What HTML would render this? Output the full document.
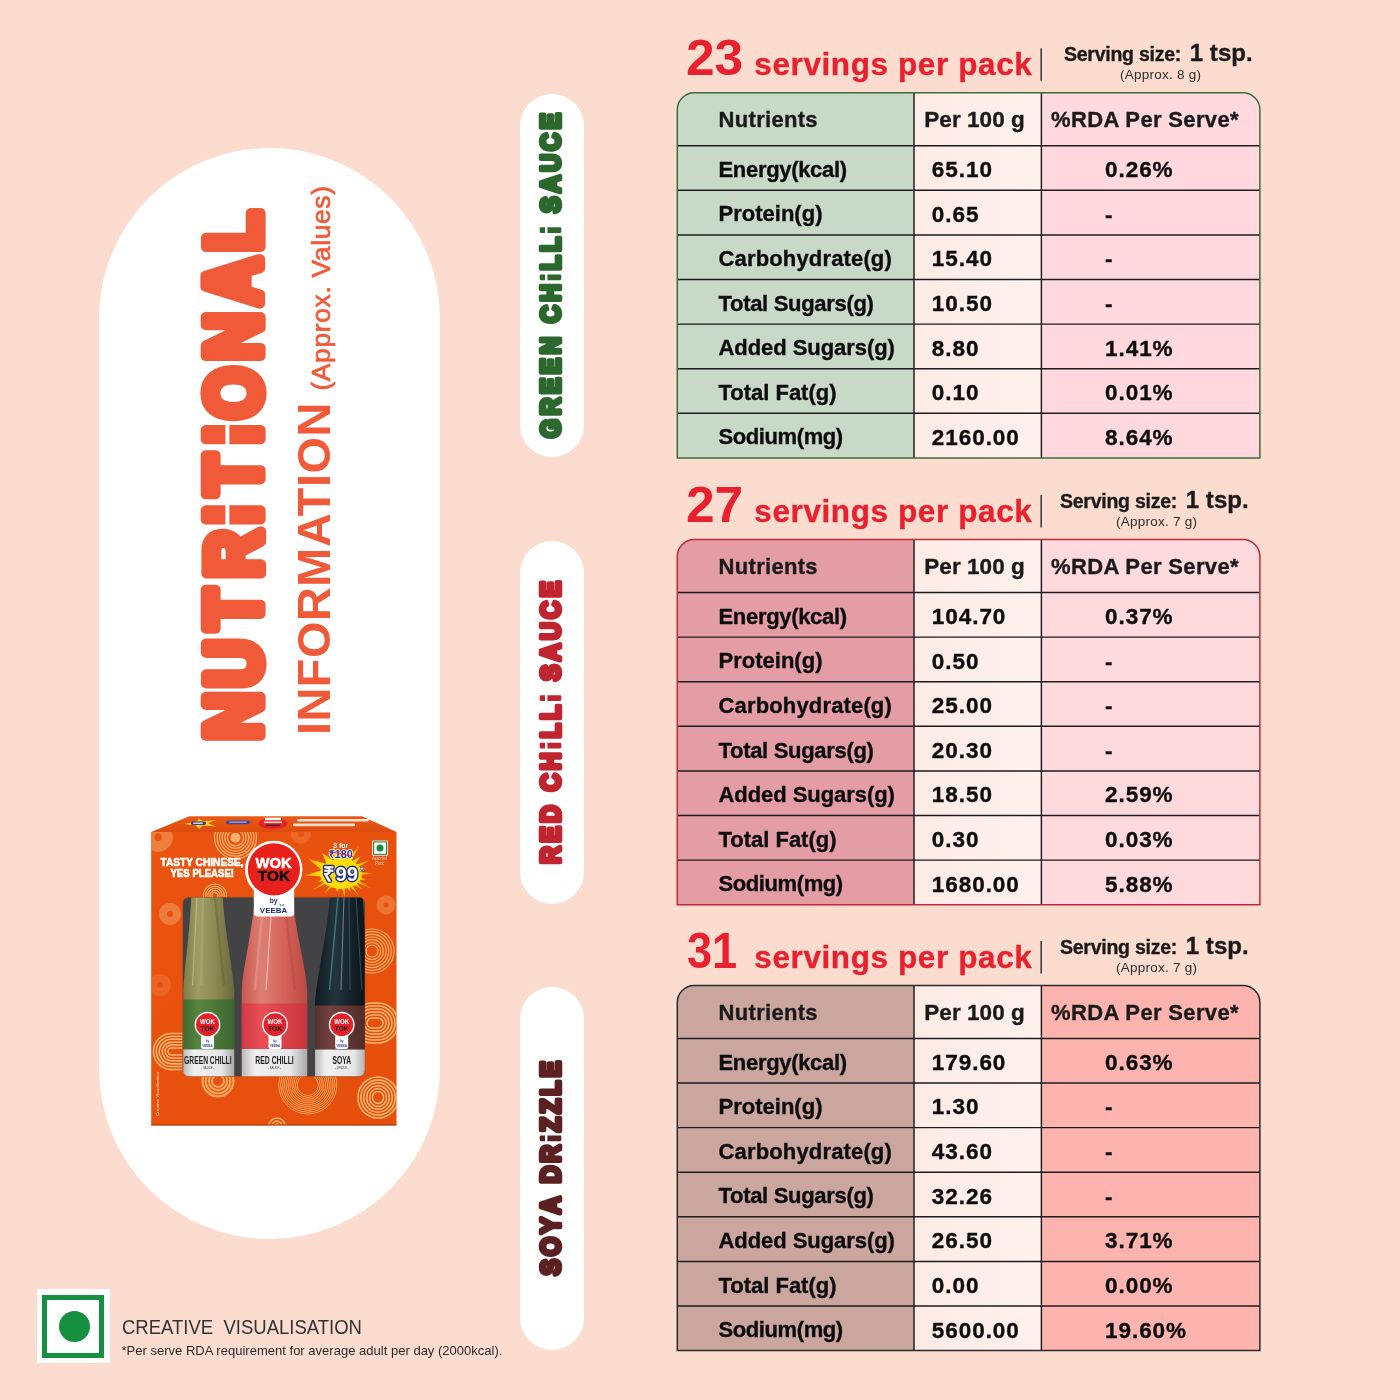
<!DOCTYPE html>
<html lang="en">
<head>
<meta charset="utf-8">
<title>Nutritional Information (Approx. Values)</title>
<style>
html,body{margin:0;padding:0;}
body{width:1400px;height:1400px;position:relative;overflow:hidden;background:#fddcd0;font-family:"Liberation Sans",Arial,Helvetica,sans-serif;}
.t{position:absolute;white-space:pre;line-height:1;margin:0;font-weight:bold;}
.h{-webkit-text-stroke:0.35px currentColor;}
.pill{position:absolute;background:#fff;}
svg{position:absolute;left:0;top:0;overflow:visible;}
svg text{font-family:"Liberation Sans",Arial,Helvetica,sans-serif;}
</style>
</head>
<body>

<div class="pill" style="left:99px;top:148px;width:340.5px;height:1091px;border-radius:170.25px;"></div>
<div class="pill" style="left:519.5px;top:94px;width:64.2px;height:363px;border-radius:32.1px;"></div>
<div class="pill" style="left:519.5px;top:541px;width:64.2px;height:363px;border-radius:32.1px;"></div>
<div class="pill" style="left:519.5px;top:986.5px;width:64.2px;height:363px;border-radius:32.1px;"></div>
<svg width="1400" height="1400" viewBox="0 0 1400 1400">
<defs><linearGradient id="gc2" x1="0" y1="0" x2="1" y2="0"><stop offset="0" stop-color="#fdebe5"/><stop offset="1" stop-color="#fff1ed"/></linearGradient></defs>
<clipPath id="cp0"><path d="M677.3,457.90 L677.3,109.80 A17,17 0 0 1 694.3,92.80 L1242.9,92.80 A17,17 0 0 1 1259.9,109.80 L1259.9,457.90 Z"/></clipPath>
<g clip-path="url(#cp0)">
<rect x="677.3" y="92.80" width="236.70" height="365.10" fill="#c8d9c7"/>
<rect x="914.0" y="92.80" width="127.40" height="365.10" fill="url(#gc2)"/>
<rect x="1041.4" y="92.80" width="218.50" height="365.10" fill="#ffd9dd"/>
</g>
<path d="M677.3,145.70 H1259.9 M677.3,190.30 H1259.9 M677.3,234.90 H1259.9 M677.3,279.50 H1259.9 M677.3,324.10 H1259.9 M677.3,368.70 H1259.9 M677.3,413.30 H1259.9 M914.0,92.80 V457.90 M1041.4,92.80 V457.90" stroke="#1c1c1c" stroke-width="1.45" fill="none"/>
<path d="M677.3,457.90 L677.3,109.80 A17,17 0 0 1 694.3,92.80 L1242.9,92.80 A17,17 0 0 1 1259.9,109.80 L1259.9,457.90 Z" stroke="#3b6d38" stroke-width="1.5" fill="none"/>
<path d="M1041.2,48.30 V80.80" stroke="#333" stroke-width="1.5"/>
<clipPath id="cp1"><path d="M677.3,904.70 L677.3,556.60 A17,17 0 0 1 694.3,539.60 L1242.9,539.60 A17,17 0 0 1 1259.9,556.60 L1259.9,904.70 Z"/></clipPath>
<g clip-path="url(#cp1)">
<rect x="677.3" y="539.60" width="236.70" height="365.10" fill="#e59da5"/>
<rect x="914.0" y="539.60" width="127.40" height="365.10" fill="url(#gc2)"/>
<rect x="1041.4" y="539.60" width="218.50" height="365.10" fill="#ffdadd"/>
</g>
<path d="M677.3,592.50 H1259.9 M677.3,637.10 H1259.9 M677.3,681.70 H1259.9 M677.3,726.30 H1259.9 M677.3,770.90 H1259.9 M677.3,815.50 H1259.9 M677.3,860.10 H1259.9 M914.0,539.60 V904.70 M1041.4,539.60 V904.70" stroke="#1c1c1c" stroke-width="1.45" fill="none"/>
<path d="M677.3,904.70 L677.3,556.60 A17,17 0 0 1 694.3,539.60 L1242.9,539.60 A17,17 0 0 1 1259.9,556.60 L1259.9,904.70 Z" stroke="#c2283a" stroke-width="1.5" fill="none"/>
<path d="M1041.2,495.10 V527.60" stroke="#333" stroke-width="1.5"/>
<clipPath id="cp2"><path d="M677.3,1350.60 L677.3,1002.50 A17,17 0 0 1 694.3,985.50 L1242.9,985.50 A17,17 0 0 1 1259.9,1002.50 L1259.9,1350.60 Z"/></clipPath>
<g clip-path="url(#cp2)">
<rect x="677.3" y="985.50" width="236.70" height="365.10" fill="#cba69f"/>
<rect x="914.0" y="985.50" width="127.40" height="365.10" fill="url(#gc2)"/>
<rect x="1041.4" y="985.50" width="218.50" height="365.10" fill="#feb4ae"/>
</g>
<path d="M677.3,1038.40 H1259.9 M677.3,1083.00 H1259.9 M677.3,1127.60 H1259.9 M677.3,1172.20 H1259.9 M677.3,1216.80 H1259.9 M677.3,1261.40 H1259.9 M677.3,1306.00 H1259.9 M914.0,985.50 V1350.60 M1041.4,985.50 V1350.60" stroke="#1c1c1c" stroke-width="1.45" fill="none"/>
<path d="M677.3,1350.60 L677.3,1002.50 A17,17 0 0 1 694.3,985.50 L1242.9,985.50 A17,17 0 0 1 1259.9,1002.50 L1259.9,1350.60 Z" stroke="#2a2a2a" stroke-width="1.5" fill="none"/>
<path d="M1041.2,941.00 V973.50" stroke="#333" stroke-width="1.5"/>
</svg>
<div class="t" style="left:686.30px;top:33.00px;font-size:50.5px;color:#e8212e;transform-origin:0 0;transform:scaleX(1.0183);">23</div>
<div class="t h" style="left:754.30px;top:49.00px;font-size:31.5px;color:#e8212e;letter-spacing:0.601px;">servings per pack</div>
<div class="t h" style="left:1064.00px;top:45.00px;font-size:19.5px;color:#1a1a1a;letter-spacing:-0.250px;">Serving size:</div>
<div class="t h" style="left:1189.70px;top:41.00px;font-size:24px;color:#1a1a1a;letter-spacing:0.062px;">1 tsp.</div>
<div class="t" style="left:1120.00px;top:68.00px;font-size:13.5px;color:#2e2e2e;font-weight:normal;letter-spacing:0.246px;">(Approx. 8 g)</div>
<div class="t h" style="left:718.60px;top:109.00px;font-size:22px;color:#1a1a1a;letter-spacing:0.305px;">Nutrients</div>
<div class="t h" style="left:924.30px;top:109.00px;font-size:22.5px;color:#1a1a1a;letter-spacing:0.053px;">Per 100 g</div>
<div class="t h" style="left:1051.10px;top:109.00px;font-size:22px;color:#1a1a1a;letter-spacing:0.349px;">%RDA Per Serve*</div>
<div class="t h" style="left:718.50px;top:159.00px;font-size:22px;color:#0d0d0d;letter-spacing:-0.315px;">Energy(kcal)</div>
<div class="t h" style="left:931.80px;top:159.00px;font-size:22.5px;color:#0d0d0d;letter-spacing:0.950px;">65.10</div>
<div class="t h" style="left:1105.00px;top:159.00px;font-size:22.5px;color:#0d0d0d;letter-spacing:0.950px;">0.26%</div>
<div class="t h" style="left:718.50px;top:203.00px;font-size:22px;color:#0d0d0d;letter-spacing:0.012px;">Protein(g)</div>
<div class="t h" style="left:931.80px;top:204.00px;font-size:22.5px;color:#0d0d0d;letter-spacing:0.950px;">0.65</div>
<div class="t h" style="left:1105.00px;top:204.00px;font-size:22.5px;color:#0d0d0d;letter-spacing:0.950px;">-</div>
<div class="t h" style="left:718.50px;top:248.00px;font-size:22px;color:#0d0d0d;letter-spacing:0.155px;">Carbohydrate(g)</div>
<div class="t h" style="left:931.80px;top:248.00px;font-size:22.5px;color:#0d0d0d;letter-spacing:0.950px;">15.40</div>
<div class="t h" style="left:1105.00px;top:248.00px;font-size:22.5px;color:#0d0d0d;letter-spacing:0.950px;">-</div>
<div class="t h" style="left:718.50px;top:293.00px;font-size:22px;color:#0d0d0d;letter-spacing:-0.308px;">Total Sugars(g)</div>
<div class="t h" style="left:931.80px;top:293.00px;font-size:22.5px;color:#0d0d0d;letter-spacing:0.950px;">10.50</div>
<div class="t h" style="left:1105.00px;top:293.00px;font-size:22.5px;color:#0d0d0d;letter-spacing:0.950px;">-</div>
<div class="t h" style="left:718.50px;top:337.00px;font-size:22px;color:#0d0d0d;letter-spacing:-0.060px;">Added Sugars(g)</div>
<div class="t h" style="left:931.80px;top:338.00px;font-size:22.5px;color:#0d0d0d;letter-spacing:0.950px;">8.80</div>
<div class="t h" style="left:1105.00px;top:338.00px;font-size:22.5px;color:#0d0d0d;letter-spacing:0.950px;">1.41%</div>
<div class="t h" style="left:718.50px;top:382.00px;font-size:22px;color:#0d0d0d;letter-spacing:-0.011px;">Total Fat(g)</div>
<div class="t h" style="left:931.80px;top:382.00px;font-size:22.5px;color:#0d0d0d;letter-spacing:0.950px;">0.10</div>
<div class="t h" style="left:1105.00px;top:382.00px;font-size:22.5px;color:#0d0d0d;letter-spacing:0.950px;">0.01%</div>
<div class="t h" style="left:718.50px;top:426.00px;font-size:22px;color:#0d0d0d;letter-spacing:-0.403px;">Sodium(mg)</div>
<div class="t h" style="left:931.80px;top:427.00px;font-size:22.5px;color:#0d0d0d;letter-spacing:0.950px;">2160.00</div>
<div class="t h" style="left:1105.00px;top:427.00px;font-size:22.5px;color:#0d0d0d;letter-spacing:0.950px;">8.64%</div>
<div class="t" style="left:686.30px;top:480.00px;font-size:50.5px;color:#e8212e;transform-origin:0 0;transform:scaleX(1.0183);">27</div>
<div class="t h" style="left:754.30px;top:496.00px;font-size:31.5px;color:#e8212e;letter-spacing:0.601px;">servings per pack</div>
<div class="t h" style="left:1060.00px;top:492.00px;font-size:19.5px;color:#1a1a1a;letter-spacing:-0.250px;">Serving size:</div>
<div class="t h" style="left:1185.70px;top:488.00px;font-size:24px;color:#1a1a1a;letter-spacing:0.062px;">1 tsp.</div>
<div class="t" style="left:1116.00px;top:515.00px;font-size:13.5px;color:#2e2e2e;font-weight:normal;letter-spacing:0.246px;">(Approx. 7 g)</div>
<div class="t h" style="left:718.60px;top:556.00px;font-size:22px;color:#1a1a1a;letter-spacing:0.305px;">Nutrients</div>
<div class="t h" style="left:924.30px;top:556.00px;font-size:22.5px;color:#1a1a1a;letter-spacing:0.053px;">Per 100 g</div>
<div class="t h" style="left:1051.10px;top:556.00px;font-size:22px;color:#1a1a1a;letter-spacing:0.349px;">%RDA Per Serve*</div>
<div class="t h" style="left:718.50px;top:606.00px;font-size:22px;color:#0d0d0d;letter-spacing:-0.315px;">Energy(kcal)</div>
<div class="t h" style="left:931.80px;top:606.00px;font-size:22.5px;color:#0d0d0d;letter-spacing:0.950px;">104.70</div>
<div class="t h" style="left:1105.00px;top:606.00px;font-size:22.5px;color:#0d0d0d;letter-spacing:0.950px;">0.37%</div>
<div class="t h" style="left:718.50px;top:650.00px;font-size:22px;color:#0d0d0d;letter-spacing:0.012px;">Protein(g)</div>
<div class="t h" style="left:931.80px;top:651.00px;font-size:22.5px;color:#0d0d0d;letter-spacing:0.950px;">0.50</div>
<div class="t h" style="left:1105.00px;top:651.00px;font-size:22.5px;color:#0d0d0d;letter-spacing:0.950px;">-</div>
<div class="t h" style="left:718.50px;top:695.00px;font-size:22px;color:#0d0d0d;letter-spacing:0.155px;">Carbohydrate(g)</div>
<div class="t h" style="left:931.80px;top:695.00px;font-size:22.5px;color:#0d0d0d;letter-spacing:0.950px;">25.00</div>
<div class="t h" style="left:1105.00px;top:695.00px;font-size:22.5px;color:#0d0d0d;letter-spacing:0.950px;">-</div>
<div class="t h" style="left:718.50px;top:740.00px;font-size:22px;color:#0d0d0d;letter-spacing:-0.308px;">Total Sugars(g)</div>
<div class="t h" style="left:931.80px;top:740.00px;font-size:22.5px;color:#0d0d0d;letter-spacing:0.950px;">20.30</div>
<div class="t h" style="left:1105.00px;top:740.00px;font-size:22.5px;color:#0d0d0d;letter-spacing:0.950px;">-</div>
<div class="t h" style="left:718.50px;top:784.00px;font-size:22px;color:#0d0d0d;letter-spacing:-0.060px;">Added Sugars(g)</div>
<div class="t h" style="left:931.80px;top:784.00px;font-size:22.5px;color:#0d0d0d;letter-spacing:0.950px;">18.50</div>
<div class="t h" style="left:1105.00px;top:784.00px;font-size:22.5px;color:#0d0d0d;letter-spacing:0.950px;">2.59%</div>
<div class="t h" style="left:718.50px;top:829.00px;font-size:22px;color:#0d0d0d;letter-spacing:-0.011px;">Total Fat(g)</div>
<div class="t h" style="left:931.80px;top:829.00px;font-size:22.5px;color:#0d0d0d;letter-spacing:0.950px;">0.30</div>
<div class="t h" style="left:1105.00px;top:829.00px;font-size:22.5px;color:#0d0d0d;letter-spacing:0.950px;">0.03%</div>
<div class="t h" style="left:718.50px;top:873.00px;font-size:22px;color:#0d0d0d;letter-spacing:-0.403px;">Sodium(mg)</div>
<div class="t h" style="left:931.80px;top:874.00px;font-size:22.5px;color:#0d0d0d;letter-spacing:0.950px;">1680.00</div>
<div class="t h" style="left:1105.00px;top:874.00px;font-size:22.5px;color:#0d0d0d;letter-spacing:0.950px;">5.88%</div>
<div class="t" style="left:687.00px;top:926.00px;font-size:50.5px;color:#e8212e;transform-origin:0 0;transform:scaleX(0.8937);">31</div>
<div class="t h" style="left:754.30px;top:942.00px;font-size:31.5px;color:#e8212e;letter-spacing:0.601px;">servings per pack</div>
<div class="t h" style="left:1060.00px;top:938.00px;font-size:19.5px;color:#1a1a1a;letter-spacing:-0.250px;">Serving size:</div>
<div class="t h" style="left:1185.70px;top:934.00px;font-size:24px;color:#1a1a1a;letter-spacing:0.062px;">1 tsp.</div>
<div class="t" style="left:1116.00px;top:961.00px;font-size:13.5px;color:#2e2e2e;font-weight:normal;letter-spacing:0.246px;">(Approx. 7 g)</div>
<div class="t h" style="left:718.60px;top:1002.00px;font-size:22px;color:#1a1a1a;letter-spacing:0.305px;">Nutrients</div>
<div class="t h" style="left:924.30px;top:1002.00px;font-size:22.5px;color:#1a1a1a;letter-spacing:0.053px;">Per 100 g</div>
<div class="t h" style="left:1051.10px;top:1002.00px;font-size:22px;color:#1a1a1a;letter-spacing:0.349px;">%RDA Per Serve*</div>
<div class="t h" style="left:718.50px;top:1052.00px;font-size:22px;color:#0d0d0d;letter-spacing:-0.315px;">Energy(kcal)</div>
<div class="t h" style="left:931.80px;top:1052.00px;font-size:22.5px;color:#0d0d0d;letter-spacing:0.950px;">179.60</div>
<div class="t h" style="left:1105.00px;top:1052.00px;font-size:22.5px;color:#0d0d0d;letter-spacing:0.950px;">0.63%</div>
<div class="t h" style="left:718.50px;top:1096.00px;font-size:22px;color:#0d0d0d;letter-spacing:0.012px;">Protein(g)</div>
<div class="t h" style="left:931.80px;top:1096.00px;font-size:22.5px;color:#0d0d0d;letter-spacing:0.950px;">1.30</div>
<div class="t h" style="left:1105.00px;top:1096.00px;font-size:22.5px;color:#0d0d0d;letter-spacing:0.950px;">-</div>
<div class="t h" style="left:718.50px;top:1141.00px;font-size:22px;color:#0d0d0d;letter-spacing:0.155px;">Carbohydrate(g)</div>
<div class="t h" style="left:931.80px;top:1141.00px;font-size:22.5px;color:#0d0d0d;letter-spacing:0.950px;">43.60</div>
<div class="t h" style="left:1105.00px;top:1141.00px;font-size:22.5px;color:#0d0d0d;letter-spacing:0.950px;">-</div>
<div class="t h" style="left:718.50px;top:1185.00px;font-size:22px;color:#0d0d0d;letter-spacing:-0.308px;">Total Sugars(g)</div>
<div class="t h" style="left:931.80px;top:1186.00px;font-size:22.5px;color:#0d0d0d;letter-spacing:0.950px;">32.26</div>
<div class="t h" style="left:1105.00px;top:1186.00px;font-size:22.5px;color:#0d0d0d;letter-spacing:0.950px;">-</div>
<div class="t h" style="left:718.50px;top:1230.00px;font-size:22px;color:#0d0d0d;letter-spacing:-0.060px;">Added Sugars(g)</div>
<div class="t h" style="left:931.80px;top:1230.00px;font-size:22.5px;color:#0d0d0d;letter-spacing:0.950px;">26.50</div>
<div class="t h" style="left:1105.00px;top:1230.00px;font-size:22.5px;color:#0d0d0d;letter-spacing:0.950px;">3.71%</div>
<div class="t h" style="left:718.50px;top:1275.00px;font-size:22px;color:#0d0d0d;letter-spacing:-0.011px;">Total Fat(g)</div>
<div class="t h" style="left:931.80px;top:1275.00px;font-size:22.5px;color:#0d0d0d;letter-spacing:0.950px;">0.00</div>
<div class="t h" style="left:1105.00px;top:1275.00px;font-size:22.5px;color:#0d0d0d;letter-spacing:0.950px;">0.00%</div>
<div class="t h" style="left:718.50px;top:1319.00px;font-size:22px;color:#0d0d0d;letter-spacing:-0.403px;">Sodium(mg)</div>
<div class="t h" style="left:931.80px;top:1320.00px;font-size:22.5px;color:#0d0d0d;letter-spacing:0.950px;">5600.00</div>
<div class="t h" style="left:1105.00px;top:1320.00px;font-size:22.5px;color:#0d0d0d;letter-spacing:0.950px;">19.60%</div>
<svg width="1400" height="1400" viewBox="0 0 1400 1400">
<g transform="translate(260.4,743) rotate(-90) scale(0.86,1)">
<text x="2.96 64.32 131.74 191.54 254.28 288.13 347.77 376.45 444.53 508.87 571.28" y="0" font-size="78" font-weight="bold" fill="#f05a38" stroke="#f05a38" stroke-width="11.2" stroke-linejoin="round">NUTRITIONAL</text>
<rect x="252.70" y="-35.00" width="24.84" height="4.00" fill="#fff"/>
<rect x="346.19" y="-35.00" width="24.84" height="4.00" fill="#fff"/>
</g>
<text transform="translate(330.3,735.1) rotate(-90)" font-size="46.8" font-weight="bold" fill="#f05a38" textLength="332.4" lengthAdjust="spacing">INFORMATION</text>
<text transform="translate(330.4,390.6) rotate(-90)" font-size="26.3" font-weight="normal" fill="#f05a38" stroke="#f05a38" stroke-width="0.7" stroke-linejoin="round" textLength="204.6" lengthAdjust="spacing">(Approx. Values)</text>
<g transform="translate(560,439) rotate(-90) scale(0.87,1)">
<text x="1.09 27.04 51.42 74.24 97.06 121.44 133.25 157.63 182.01 193.81 215.04 236.27 248.08 259.88 282.70 307.08 331.46 355.84" y="0" font-size="28.3" font-weight="bold" fill="#2c672d" stroke="#2c672d" stroke-width="4.5" stroke-linejoin="round">GREEN CH<tspan stroke-width="2.6">I</tspan>LL<tspan stroke-width="2.6">I</tspan> SAUCE</text>
<rect x="181.40" y="-15.00" width="9.08" height="2.40" fill="#fff"/>
<rect x="235.67" y="-15.00" width="9.08" height="2.40" fill="#fff"/>
</g>
<g transform="translate(560,864.3) rotate(-90) scale(0.87,1)">
<text x="0.36 24.77 47.61 72.02 83.85 108.26 132.67 144.51 165.76 187.02 198.85 210.69 233.54 257.94 282.35 306.76" y="0" font-size="28.3" font-weight="bold" fill="#c0242f" stroke="#c0242f" stroke-width="4.5" stroke-linejoin="round">RED CH<tspan stroke-width="2.6">I</tspan>LL<tspan stroke-width="2.6">I</tspan> SAUCE</text>
<rect x="132.06" y="-15.00" width="9.08" height="2.40" fill="#fff"/>
<rect x="186.41" y="-15.00" width="9.08" height="2.40" fill="#fff"/>
</g>
<g transform="translate(560,1276.7) rotate(-90) scale(0.87,1)">
<text x="1.43 23.83 49.37 71.76 95.72 107.11 131.06 155.02 166.41 187.21 208.02 228.83" y="0" font-size="28.3" font-weight="bold" fill="#5b2022" stroke="#5b2022" stroke-width="4.5" stroke-linejoin="round">SOYA DR<tspan stroke-width="2.6">I</tspan>ZZLE</text>
<rect x="154.42" y="-15.00" width="9.08" height="2.40" fill="#fff"/>
</g>
</svg>
<div style="position:absolute;left:36.7px;top:1289px;width:73px;height:74px;background:#fff;"></div>
<div style="position:absolute;left:42px;top:1295px;width:62.3px;height:62.6px;box-sizing:border-box;border:5px solid #149040;"></div>
<div style="position:absolute;left:58.8px;top:1310.7px;width:31.2px;height:31.2px;border-radius:50%;background:#149040;"></div>
<div class="t" style="left:121.80px;top:1317.00px;font-size:20.5px;color:#333;font-weight:normal;transform-origin:0 0;transform:scaleX(0.9029);">CREATIVE  VISUALISATION</div>
<div class="t" style="left:121.50px;top:1344.00px;font-size:13px;color:#2b2b2b;font-weight:normal;letter-spacing:0.014px;">*Per serve RDA requirement for average adult per day (2000kcal).</div>
<svg style="position:absolute;left:140px;top:805px;" width="270" height="335" viewBox="140 805 270 335" font-family="'Liberation Sans',Arial,sans-serif">
<defs>
<linearGradient id="gFront" x1="0" y1="0" x2="1" y2="1"><stop offset="0" stop-color="#ea5410"/><stop offset="1" stop-color="#e64e0b"/></linearGradient>
<linearGradient id="gTop" x1="0" y1="0" x2="0" y2="1"><stop offset="0" stop-color="#e85a17"/><stop offset="1" stop-color="#dc4c0c"/></linearGradient>
<linearGradient id="gGreen" x1="0" y1="0" x2="1" y2="0"><stop offset="0" stop-color="#7d7c48"/><stop offset="0.3" stop-color="#a09c66"/><stop offset="0.65" stop-color="#8a8750"/><stop offset="1" stop-color="#696a3c"/></linearGradient>
<linearGradient id="gRed" x1="0" y1="0" x2="1" y2="0"><stop offset="0" stop-color="#c9584e"/><stop offset="0.3" stop-color="#de7f73"/><stop offset="0.65" stop-color="#d4635a"/><stop offset="1" stop-color="#bb4a43"/></linearGradient>
<linearGradient id="gSoy" x1="0" y1="0" x2="1" y2="0"><stop offset="0" stop-color="#10191f"/><stop offset="0.4" stop-color="#22353d"/><stop offset="0.75" stop-color="#141f26"/><stop offset="1" stop-color="#0d1419"/></linearGradient>
<linearGradient id="gWhite" x1="0" y1="0" x2="1" y2="0"><stop offset="0" stop-color="#b9b9b9"/><stop offset="0.2" stop-color="#efefef"/><stop offset="0.75" stop-color="#e6e6e6"/><stop offset="1" stop-color="#a8a8a8"/></linearGradient>
<linearGradient id="gLblG" x1="0" y1="0" x2="1" y2="0"><stop offset="0" stop-color="#3f6a31"/><stop offset="0.3" stop-color="#55863f"/><stop offset="1" stop-color="#3d662f"/></linearGradient>
<linearGradient id="gLblR" x1="0" y1="0" x2="1" y2="0"><stop offset="0" stop-color="#cf3a42"/><stop offset="0.3" stop-color="#ea4f55"/><stop offset="1" stop-color="#c8343c"/></linearGradient>
<linearGradient id="gLblS" x1="0" y1="0" x2="1" y2="0"><stop offset="0" stop-color="#55302f"/><stop offset="0.3" stop-color="#74423f"/><stop offset="1" stop-color="#4c2928"/></linearGradient>
<radialGradient id="gStar"><stop offset="0" stop-color="#fff15a"/><stop offset="0.6" stop-color="#ffd800"/><stop offset="1" stop-color="#f9a800"/></radialGradient>
<clipPath id="cFront"><rect x="151.2" y="832" width="245.3" height="293.5"/></clipPath>
<clipPath id="cWin"><rect x="182.7" y="897.2" width="182.3" height="179.3" rx="6" ry="6"/></clipPath>
</defs>
<polygon points="151.2,832 189.3,816.2 362,816.2 396.5,832" fill="url(#gTop)"/>
<g opacity="0.95">
<polygon points="184,824 197,821.5 199,818.5 203,821.3 216,820 208,823.3 216,826.5 203,825.5 199,829 196,825.6" fill="#ffd21a"/>
<rect x="191" y="821.6" width="15" height="3.4" rx="1.7" fill="#2f3f9a"/><rect x="193" y="822.4" width="10" height="1.6" rx="0.8" fill="#fff" opacity="0.8"/>
<rect x="226" y="820.6" width="24" height="3.6" rx="1.8" fill="#3646a0"/><rect x="229" y="821.4" width="18" height="1.4" rx="0.7" fill="#dfe4ff" opacity="0.7"/>
<ellipse cx="273" cy="823.6" rx="14.5" ry="5.4" fill="#e3212b"/><rect x="265" y="817.6" width="16" height="2.6" fill="#fff"/><rect x="264" y="821.5" width="18" height="1.6" fill="#fff" opacity="0.85"/><rect x="266" y="824.6" width="14" height="1.5" fill="#2a1a1a" opacity="0.8"/>
<rect x="297" y="819" width="72" height="2.6" rx="1" fill="#fff" opacity="0.85"/><rect x="293" y="823.4" width="62" height="2.8" rx="1" fill="#fff" opacity="0.85"/>
</g>
<rect x="151.2" y="832" width="245.3" height="293.5" fill="url(#gFront)"/>
<g clip-path="url(#cFront)" fill="none">
<circle cx="158.2" cy="837.2" r="9.2" stroke="#f08444" stroke-width="10.8" opacity="0.9"/>
<circle cx="235.5" cy="837.8" r="8.00" stroke="#f8b26c" stroke-width="1.30" opacity="1"/>
<circle cx="235.5" cy="837.8" r="10.60" stroke="#f8b26c" stroke-width="1.30" opacity="1"/>
<circle cx="235.5" cy="837.8" r="13.20" stroke="#f8b26c" stroke-width="1.30" opacity="1"/>
<circle cx="235.5" cy="837.8" r="15.80" stroke="#f8b26c" stroke-width="1.30" opacity="1"/>
<circle cx="235.5" cy="837.8" r="18.40" stroke="#f8b26c" stroke-width="1.30" opacity="1"/>
<circle cx="235.5" cy="837.8" r="21.00" stroke="#f8b26c" stroke-width="1.30" opacity="1"/>
<circle cx="235.5" cy="837.8" r="5" fill="#f8b26c"/>
<circle cx="301" cy="834" r="6.5" stroke="#ee6d2d" stroke-width="7" opacity="0.8"/>
<circle cx="215" cy="895.5" r="3.00" stroke="#f8b26c" stroke-width="1.10" opacity="1"/>
<circle cx="215" cy="895.5" r="5.10" stroke="#f8b26c" stroke-width="1.10" opacity="1"/>
<circle cx="215" cy="895.5" r="7.20" stroke="#f8b26c" stroke-width="1.10" opacity="1"/>
<circle cx="215" cy="895.5" r="9.30" stroke="#f8b26c" stroke-width="1.10" opacity="1"/>
<circle cx="215" cy="895.5" r="11.40" stroke="#f8b26c" stroke-width="1.10" opacity="1"/>
<circle cx="170" cy="914" r="7" stroke="#f08444" stroke-width="8" opacity="0.85"/>
<circle cx="372" cy="951" r="6.00" stroke="#f8ae66" stroke-width="1.20" opacity="1"/>
<circle cx="372" cy="951" r="8.67" stroke="#f8ae66" stroke-width="1.20" opacity="1"/>
<circle cx="372" cy="951" r="11.33" stroke="#f8ae66" stroke-width="1.20" opacity="1"/>
<circle cx="372" cy="951" r="14.00" stroke="#f8ae66" stroke-width="1.20" opacity="1"/>
<circle cx="372" cy="951" r="16.67" stroke="#f8ae66" stroke-width="1.20" opacity="1"/>
<circle cx="372" cy="951" r="19.33" stroke="#f8ae66" stroke-width="1.20" opacity="1"/>
<circle cx="372" cy="951" r="22.00" stroke="#f8ae66" stroke-width="1.20" opacity="1"/>
<circle cx="386" cy="905" r="6" stroke="#f08444" stroke-width="7" opacity="0.7"/>
<rect x="352.00" y="1003.00" width="46.00" height="40.00" rx="20.00" stroke="#f9b874" stroke-width="1.50" opacity="1"/>
<rect x="355.00" y="1006.00" width="40.00" height="34.00" rx="17.00" stroke="#f9b874" stroke-width="1.50" opacity="1"/>
<rect x="358.00" y="1009.00" width="34.00" height="28.00" rx="14.00" stroke="#f9b874" stroke-width="1.50" opacity="1"/>
<rect x="361.00" y="1012.00" width="28.00" height="22.00" rx="11.00" stroke="#f9b874" stroke-width="1.50" opacity="1"/>
<rect x="364.00" y="1015.00" width="22.00" height="16.00" rx="8.00" stroke="#f9b874" stroke-width="1.50" opacity="1"/>
<rect x="367.00" y="1018.00" width="16.00" height="10.00" rx="5.00" stroke="#f9b874" stroke-width="1.50" opacity="1"/>
<rect x="153.50" y="1033.50" width="60.00" height="36.00" rx="18.00" stroke="#f9b874" stroke-width="1.50" opacity="1"/>
<rect x="156.40" y="1036.40" width="54.20" height="30.20" rx="15.10" stroke="#f9b874" stroke-width="1.50" opacity="1"/>
<rect x="159.30" y="1039.30" width="48.40" height="24.40" rx="12.20" stroke="#f9b874" stroke-width="1.50" opacity="1"/>
<rect x="162.20" y="1042.20" width="42.60" height="18.60" rx="9.30" stroke="#f9b874" stroke-width="1.50" opacity="1"/>
<rect x="165.10" y="1045.10" width="36.80" height="12.80" rx="6.40" stroke="#f9b874" stroke-width="1.50" opacity="1"/>
<rect x="168.00" y="1048.00" width="31.00" height="7.00" rx="3.50" stroke="#f9b874" stroke-width="1.50" opacity="1"/>
<circle cx="160" cy="985" r="7" stroke="#ee6d2d" stroke-width="8" opacity="0.7"/>
<circle cx="307.8" cy="1085" r="10.50" stroke="#f7a65e" stroke-width="0.95" opacity="1"/>
<circle cx="307.8" cy="1085" r="12.35" stroke="#f7a65e" stroke-width="0.95" opacity="1"/>
<circle cx="307.8" cy="1085" r="14.20" stroke="#f7a65e" stroke-width="0.95" opacity="1"/>
<circle cx="307.8" cy="1085" r="16.05" stroke="#f7a65e" stroke-width="0.95" opacity="1"/>
<circle cx="307.8" cy="1085" r="17.90" stroke="#f7a65e" stroke-width="0.95" opacity="1"/>
<circle cx="307.8" cy="1085" r="19.75" stroke="#f7a65e" stroke-width="0.95" opacity="1"/>
<circle cx="307.8" cy="1085" r="21.60" stroke="#f7a65e" stroke-width="0.95" opacity="1"/>
<circle cx="307.8" cy="1085" r="23.45" stroke="#f7a65e" stroke-width="0.95" opacity="1"/>
<circle cx="307.8" cy="1085" r="25.30" stroke="#f7a65e" stroke-width="0.95" opacity="1"/>
<circle cx="307.8" cy="1085" r="27.15" stroke="#f7a65e" stroke-width="0.95" opacity="1"/>
<circle cx="307.8" cy="1085" r="29.00" stroke="#f7a65e" stroke-width="0.95" opacity="1"/>
<circle cx="218" cy="1081" r="6.00" stroke="#f7a65e" stroke-width="2.20" opacity="1"/>
<circle cx="218" cy="1081" r="9.13" stroke="#f7a65e" stroke-width="2.20" opacity="1"/>
<circle cx="218" cy="1081" r="12.27" stroke="#f7a65e" stroke-width="2.20" opacity="1"/>
<circle cx="218" cy="1081" r="15.40" stroke="#f7a65e" stroke-width="2.20" opacity="1"/>
<rect x="358.00" y="1077.00" width="40.00" height="41.00" rx="20.00" stroke="#f9b874" stroke-width="1.50" opacity="1"/>
<rect x="360.90" y="1079.90" width="34.20" height="35.20" rx="17.10" stroke="#f9b874" stroke-width="1.50" opacity="1"/>
<rect x="363.80" y="1082.80" width="28.40" height="29.40" rx="14.20" stroke="#f9b874" stroke-width="1.50" opacity="1"/>
<rect x="366.70" y="1085.70" width="22.60" height="23.60" rx="11.30" stroke="#f9b874" stroke-width="1.50" opacity="1"/>
<rect x="369.60" y="1088.60" width="16.80" height="17.80" rx="8.40" stroke="#f9b874" stroke-width="1.50" opacity="1"/>
<rect x="372.50" y="1091.50" width="11.00" height="12.00" rx="5.50" stroke="#f9b874" stroke-width="1.50" opacity="1"/>
<circle cx="277" cy="1126" r="2.00" stroke="#f9b874" stroke-width="1.40" opacity="1"/>
<circle cx="277" cy="1126" r="5.00" stroke="#f9b874" stroke-width="1.40" opacity="1"/>
<circle cx="277" cy="1126" r="8.00" stroke="#f9b874" stroke-width="1.40" opacity="1"/>
</g>
<rect x="151.2" y="1124.3" width="245.3" height="1.2" fill="#a83a08" opacity="0.8"/>
<rect x="182.7" y="897.2" width="182.3" height="179.3" rx="6" ry="6" fill="#434345"/>
<g clip-path="url(#cWin)">
<path d="M191.6,890 C190,930 184.5,968 183.3,990 L183.3,1080 L234.2,1080 L234.2,990 C233,968 224,930 222.4,890 Z" fill="url(#gGreen)"/>
<rect x="183.3" y="999.5" width="50.9" height="50" fill="url(#gLblG)"/>
<rect x="183.3" y="1049.5" width="50.9" height="30" fill="url(#gWhite)"/>
<path d="M197,897 L192.5,985" stroke="#cfcc9f" stroke-width="1.2" opacity="0.6" fill="none"/><path d="M203,897 L201,985" stroke="#b9b687" stroke-width="2.5" opacity="0.35" fill="none"/><path d="M215,897 L224,985" stroke="#5f6238" stroke-width="2.4" opacity="0.45" fill="none"/>
<path d="M255.5,890 C253,930 243,966 241.8,990 L241.8,1080 L307.2,1080 L307.2,990 C306,966 294.5,930 292,890 Z" fill="url(#gRed)"/>
<rect x="241.8" y="1003.5" width="65.4" height="45.5" fill="url(#gLblR)"/>
<rect x="241.8" y="1049" width="65.4" height="30" fill="url(#gWhite)"/>
<path d="M271,915 L266,990" stroke="#f8cfc6" stroke-width="1.3" opacity="0.7" fill="none"/><path d="M262,915 L255,990" stroke="#f0a79b" stroke-width="2.6" opacity="0.4" fill="none"/><path d="M286,915 L295,990" stroke="#b9473f" stroke-width="2.6" opacity="0.4" fill="none"/>
<path d="M330.5,890 C328,930 317,975 315,1003 L315,1080 L366,1080 L366,950 C365,925 363,910 362.3,890 Z" fill="url(#gSoy)"/>
<rect x="315" y="1005.5" width="52" height="44" fill="url(#gLblS)"/>
<rect x="315" y="1049.5" width="52" height="30" fill="url(#gWhite)"/>
<path d="M338,897 L329.5,990" stroke="#4a8d95" stroke-width="1.4" opacity="0.75" fill="none"/><path d="M344,897 L341,990" stroke="#c9d6d8" stroke-width="1.1" opacity="0.5" fill="none"/><path d="M349,897 L350,990" stroke="#2b5960" stroke-width="1.6" opacity="0.6" fill="none"/><path d="M356,897 L362,990" stroke="#3c7a82" stroke-width="1.2" opacity="0.5" fill="none"/>
<path d="M201.0,1030 h13 v17 q0,2 -2,2 h-9 q-2,0 -2,-2 z" fill="#fff"/>
<circle cx="207.5" cy="1024.7" r="12.9" fill="#fff"/><circle cx="207.5" cy="1024.7" r="11.5" fill="#e5222c"/>
<text x="207.5" y="1023.6" font-size="7" font-weight="bold" fill="#fff" text-anchor="middle" textLength="15" lengthAdjust="spacingAndGlyphs">WOK</text>
<text x="207.5" y="1030.6" font-size="7" font-weight="bold" fill="#1a1a1a" text-anchor="middle" textLength="14" lengthAdjust="spacingAndGlyphs">TOK</text>
<text x="207.5" y="1041.6" font-size="3" font-weight="bold" fill="#2d4b9b" text-anchor="middle">by</text>
<text x="207.5" y="1046.6" font-size="4.2" font-weight="bold" fill="#2d4b9b" text-anchor="middle" textLength="10.5" lengthAdjust="spacingAndGlyphs">VEEBA</text>
<path d="M268.5,1030 h13 v17 q0,2 -2,2 h-9 q-2,0 -2,-2 z" fill="#fff"/>
<circle cx="275" cy="1024.7" r="12.9" fill="#fff"/><circle cx="275" cy="1024.7" r="11.5" fill="#e5222c"/>
<text x="275" y="1023.6" font-size="7" font-weight="bold" fill="#fff" text-anchor="middle" textLength="15" lengthAdjust="spacingAndGlyphs">WOK</text>
<text x="275" y="1030.6" font-size="7" font-weight="bold" fill="#1a1a1a" text-anchor="middle" textLength="14" lengthAdjust="spacingAndGlyphs">TOK</text>
<text x="275" y="1041.6" font-size="3" font-weight="bold" fill="#2d4b9b" text-anchor="middle">by</text>
<text x="275" y="1046.6" font-size="4.2" font-weight="bold" fill="#2d4b9b" text-anchor="middle" textLength="10.5" lengthAdjust="spacingAndGlyphs">VEEBA</text>
<path d="M335.2,1030 h13 v17 q0,2 -2,2 h-9 q-2,0 -2,-2 z" fill="#fff"/>
<circle cx="341.7" cy="1024.7" r="12.9" fill="#fff"/><circle cx="341.7" cy="1024.7" r="11.5" fill="#e5222c"/>
<text x="341.7" y="1023.6" font-size="7" font-weight="bold" fill="#fff" text-anchor="middle" textLength="15" lengthAdjust="spacingAndGlyphs">WOK</text>
<text x="341.7" y="1030.6" font-size="7" font-weight="bold" fill="#1a1a1a" text-anchor="middle" textLength="14" lengthAdjust="spacingAndGlyphs">TOK</text>
<text x="341.7" y="1041.6" font-size="3" font-weight="bold" fill="#2d4b9b" text-anchor="middle">by</text>
<text x="341.7" y="1046.6" font-size="4.2" font-weight="bold" fill="#2d4b9b" text-anchor="middle" textLength="10.5" lengthAdjust="spacingAndGlyphs">VEEBA</text>
<text x="207.8" y="1063.8" font-size="11.4" font-weight="bold" fill="#1e1e1e" text-anchor="middle" textLength="47.5" lengthAdjust="spacingAndGlyphs">GREEN CHILLI</text>
<text x="207.8" y="1069.3" font-size="3.4" fill="#444" text-anchor="middle" textLength="13" lengthAdjust="spacingAndGlyphs">- SAUCE -</text>
<text x="274.5" y="1063.8" font-size="11.4" font-weight="bold" fill="#1e1e1e" text-anchor="middle" textLength="38.5" lengthAdjust="spacingAndGlyphs">RED CHILLI</text>
<text x="274.5" y="1069.3" font-size="3.4" fill="#444" text-anchor="middle" textLength="13" lengthAdjust="spacingAndGlyphs">- SAUCE -</text>
<text x="341.8" y="1063.8" font-size="11.4" font-weight="bold" fill="#1e1e1e" text-anchor="middle" textLength="18.5" lengthAdjust="spacingAndGlyphs">SOYA</text>
<text x="341.8" y="1069.3" font-size="3.4" fill="#444" text-anchor="middle" textLength="13" lengthAdjust="spacingAndGlyphs">- DRIZZLE -</text>
</g>
<rect x="182.7" y="897.2" width="182.3" height="179.3" rx="6" ry="6" fill="none" stroke="#c9470c" stroke-width="0.8" opacity="0.6"/>
<text x="243.5" y="865.6" font-size="11.6" font-weight="bold" fill="#fff" stroke="#fff" stroke-width="0.7" stroke-linejoin="round" text-anchor="end" textLength="83" lengthAdjust="spacingAndGlyphs">TASTY CHINESE,</text>
<text x="234" y="877.4" font-size="11.6" font-weight="bold" fill="#fff" stroke="#fff" stroke-width="0.7" stroke-linejoin="round" text-anchor="end" textLength="63.5" lengthAdjust="spacingAndGlyphs">YES PLEASE!</text>
<path d="M253.8,885 h40.4 v28 q0,3.4 -3.4,3.4 h-33.6 q-3.4,0 -3.4,-3.4 z" fill="#fff"/>
<circle cx="273.7" cy="869.5" r="28.7" fill="#fff"/><circle cx="273.9" cy="869.3" r="26.1" fill="#e8201c"/>
<text x="273.7" y="867.8" font-size="15.4" font-weight="bold" fill="#fff" stroke="#fff" stroke-width="0.6" stroke-linejoin="round" text-anchor="middle" textLength="36.2" lengthAdjust="spacingAndGlyphs">WOK</text>
<text x="273.9" y="881.1" font-size="15" font-weight="bold" fill="#141414" stroke="#141414" stroke-width="0.6" stroke-linejoin="round" text-anchor="middle" textLength="32.2" lengthAdjust="spacingAndGlyphs">TOK</text>
<text x="273.5" y="903.4" font-size="6.6" font-weight="bold" fill="#27306f" text-anchor="middle">by</text>
<path d="M281.8,906.3 q-2.4,-0.6 -2.6,-2.8 q2.2,0.2 2.6,2.8 z M281.9,906.3 q0.3,-2.2 2.6,-2.6 q0,2.2 -2.6,2.6 z" fill="#2f9a47"/>
<text x="273.5" y="912.7" font-size="7.9" font-weight="bold" fill="#1e2a78" text-anchor="middle" textLength="27.3" lengthAdjust="spacingAndGlyphs">VEEBA</text>
<polygon points="304.5,875.6 322.0,870.2 308.5,858.7 326.8,864.0 322.0,853.0 333.6,860.5 333.0,846.0 340.4,859.7 347.0,850.0 347.6,859.6 359.1,845.7 351.5,861.3 361.0,856.0 354.3,865.3 369.4,860.3 355.7,868.6 366.0,868.0 356.5,872.1 372.5,873.2 356.5,875.4 366.0,880.0 356.3,879.6 371.7,888.5 355.2,882.1 362.0,889.0 351.8,884.2 359.1,896.0 348.7,885.0 351.0,892.0 344.9,885.4 345.0,897.6 341.0,885.4 337.0,892.0 335.4,884.1 324.6,892.9 332.4,882.8 326.0,887.0 329.1,881.9 312.8,889.7 326.9,880.5 318.0,882.0 324.6,876.6" fill="url(#gStar)"/>
<ellipse cx="341" cy="874" rx="21" ry="15" fill="#ffdc0a"/>
<text x="340.7" y="848" font-size="8" font-weight="bold" fill="#fff" text-anchor="middle" textLength="15" lengthAdjust="spacingAndGlyphs">3 for</text>
<text x="340.7" y="857.6" font-size="10.6" font-weight="bold" fill="#27359a" stroke="#fff" stroke-width="1.6" stroke-linejoin="round" paint-order="stroke" text-anchor="middle" textLength="24.4" lengthAdjust="spacingAndGlyphs">₹180</text>
<path d="M328,851.2 L353.5,856.6" stroke="#e0202a" stroke-width="0.8"/>
<text x="340.7" y="881" font-size="20.2" font-weight="bold" fill="#fff" stroke="#1f2c8c" stroke-width="2.8" stroke-linejoin="round" paint-order="stroke" text-anchor="middle" textLength="34.6" lengthAdjust="spacingAndGlyphs">₹99</text>
<text x="360" y="872.6" font-size="7" font-weight="bold" fill="#fff" stroke="#1f2c8c" stroke-width="0.9" paint-order="stroke">^</text>
<rect x="372.3" y="840.6" width="15.5" height="15" fill="#fff"/><rect x="373.6" y="841.9" width="12.9" height="12.4" fill="none" stroke="#168a3f" stroke-width="1.1"/><circle cx="380" cy="848.1" r="3.5" fill="#168a3f"/>
<text x="379.5" y="860.4" font-size="5.2" fill="#ffd0b5" text-anchor="middle" textLength="15" lengthAdjust="spacingAndGlyphs">Assorted</text>
<text x="379.5" y="865.4" font-size="5.2" fill="#ffd0b5" text-anchor="middle" textLength="8.6" lengthAdjust="spacingAndGlyphs">Pack</text>
<text transform="translate(158.7,1116) rotate(-90)" font-size="4.2" fill="#ffd9c2" textLength="44" lengthAdjust="spacingAndGlyphs">Creative Visualization</text>
</svg>
</body>
</html>
